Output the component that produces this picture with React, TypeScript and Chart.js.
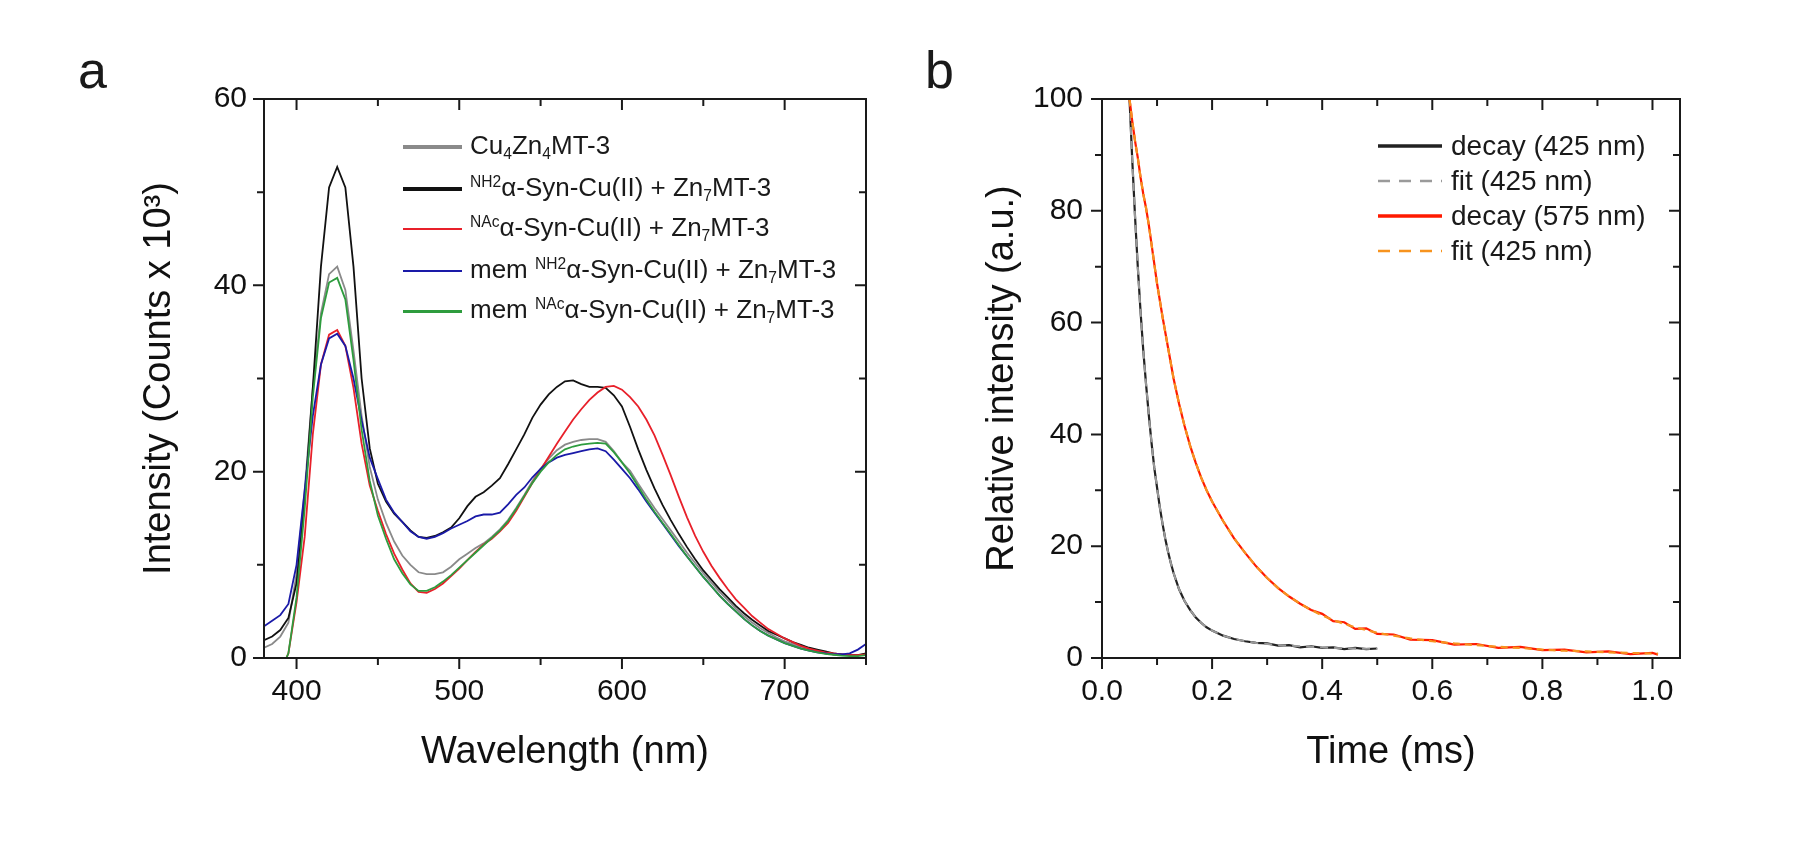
import React, { useEffect, useRef } from "react";
import { Chart, registerables } from "chart.js";
Chart.register(...registerables);

const FONT = "'Liberation Sans', Arial, Helvetica, sans-serif";

// ---------- Panel a: emission spectra ----------
const wavelength = [
  380, 385, 390, 395, 400, 405, 410, 415, 420, 425, 430, 435, 440, 445, 450,
  455, 460, 465, 470, 475, 480, 485, 490, 495, 500, 505, 510, 515, 520, 525,
  530, 535, 540, 545, 550, 555, 560, 565, 570, 575, 580, 585, 590, 595, 600,
  605, 610, 615, 620, 625, 630, 635, 640, 645, 650, 655, 660, 665, 670, 675,
  680, 685, 690, 695, 700, 705, 710, 715, 720, 725, 730, 735, 740, 745, 750,
];
const cu4zn4MT3 = [
  1.1, 1.5, 2.3, 3.8, 9,
  18, 29, 37, 41.2, 42, 39.5, 33, 26, 20.5, 17,
  14.5, 12.5, 11, 10, 9.2, 9, 9, 9.2, 9.8, 10.6,
  11.2, 11.8, 12.3, 13, 13.8, 14.8, 16.1, 17.5, 19, 20.3,
  21.4, 22.3, 22.9, 23.2, 23.4, 23.5, 23.5, 23.2, 22.2, 21,
  20.1, 18.7, 17.4, 16.1, 14.9, 13.7, 12.5, 11.3, 10.2, 9.1,
  8.1, 7.1, 6.2, 5.3, 4.5, 3.8, 3.2, 2.7, 2.2, 1.8,
  1.5, 1.2, 0.9, 0.7, 0.5, 0.4, 0.3, 0.3, 0.3, 0.4,
];
const nh2SynZn7MT3 = [
  1.9, 2.3, 3.0, 4.3, 8,
  17, 29, 42, 50.5, 52.7, 50.5, 42, 30, 22.5, 18.7,
  16.8, 15.5, 14.6, 13.7, 13.0, 12.9, 13.1, 13.5, 14.0, 15.0,
  16.3, 17.3, 17.8, 18.5, 19.3, 20.8, 22.4, 24.0, 25.8, 27.2,
  28.3, 29.1, 29.7, 29.8, 29.4, 29.1, 29.1, 29.0, 28.2, 27.0,
  24.8, 22.4, 20.2, 18.2, 16.4, 14.8, 13.3, 11.9, 10.6, 9.4,
  8.4, 7.4, 6.5, 5.6, 4.8, 4.1, 3.5, 2.9, 2.5, 2.1,
  1.7, 1.4, 1.1, 0.9, 0.7, 0.5, 0.4, 0.3, 0.3, 0.5,
];
const nacSynZn7MT3 = [
  -3, -2.5, -1.5, 0.5, 6,
  13, 24, 31.5, 34.7, 35.2, 33.5, 29, 23, 18.5, 15.8,
  13.3, 11.2, 9.5, 8.0, 7.1, 7.0, 7.4, 8.0, 8.8, 9.6,
  10.5, 11.4, 12.2, 12.8, 13.6, 14.5, 15.8, 17.3, 18.8, 20.2,
  21.6, 23.0, 24.3, 25.6, 26.7, 27.7, 28.5, 29.1, 29.2, 28.8,
  28.0, 27.0, 25.6, 23.9, 21.8, 19.6, 17.3, 15.1, 13.1, 11.4,
  9.9, 8.6, 7.4, 6.3, 5.4, 4.5, 3.8, 3.1, 2.6, 2.1,
  1.7, 1.3, 1.0, 0.8, 0.6, 0.5, 0.4, 0.3, 0.3, 0.4,
];
const memNh2SynZn7MT3 = [
  3.4, 4.0, 4.6, 5.8, 10,
  18, 26, 31.5, 34.3, 34.8, 33.5, 30, 25.5, 21.5, 19.2,
  17, 15.6, 14.6, 13.6, 13, 12.8, 13, 13.4, 13.9, 14.3,
  14.7, 15.2, 15.4, 15.4, 15.6, 16.5, 17.5, 18.3, 19.4, 20.3,
  21.0, 21.5, 21.8, 22.0, 22.2, 22.4, 22.5, 22.2, 21.3, 20.3,
  19.3, 18.1, 16.8, 15.6, 14.4, 13.2, 12.0, 10.9, 9.8, 8.7,
  7.7, 6.7, 5.8, 5.0, 4.2, 3.5, 2.9, 2.4, 2.0, 1.6,
  1.3, 1.0, 0.8, 0.6, 0.5, 0.4, 0.4, 0.5, 0.9, 1.5,
];
const memNacSynZn7MT3 = [
  -3, -2.5, -1.5, 0.5, 6.5,
  16, 28, 36.5, 40.3, 40.8, 38.5, 32, 24.5, 19, 15.3,
  12.8, 10.6, 9.1, 7.9, 7.2, 7.2, 7.6, 8.2, 8.9, 9.7,
  10.5, 11.3, 12.1, 12.9, 13.7, 14.7, 16.0, 17.4, 18.8, 20.0,
  21.0, 21.8, 22.4, 22.7, 22.9, 23.0, 23.1, 23.0, 22.1, 21.0,
  19.8, 18.4, 17.0, 15.7, 14.5, 13.3, 12.1, 10.9, 9.8, 8.7,
  7.7, 6.7, 5.8, 5.0, 4.2, 3.5, 2.9, 2.4, 2.0, 1.6,
  1.3, 1.0, 0.8, 0.6, 0.45, 0.35, 0.25, 0.2, 0.2, 0.3,
];
const wavelengthTickLabels = [400, 500, 600, 700];
const intensityTickLabels = [0, 20, 40, 60];

// ---------- Panel b: decays ----------
const time425 = [
  0.05, 0.055, 0.06, 0.065, 0.07, 0.075, 0.08, 0.085, 0.09, 0.095, 0.1, 0.105,
  0.11, 0.115, 0.12, 0.125, 0.13, 0.14, 0.15, 0.16, 0.17, 0.18, 0.19, 0.2,
  0.22, 0.24, 0.26, 0.28, 0.3, 0.32, 0.34, 0.36, 0.38, 0.4, 0.42, 0.44, 0.46,
  0.48, 0.5,
];
const decay425 = [
  100, 89, 79, 70, 62, 55, 49, 43.5, 38.5, 34, 30.5, 27,
  24, 21.3, 19, 17, 15.2, 12.3, 10.2, 8.6, 7.3, 6.3, 5.5, 4.9,
  4.0, 3.4, 3.0, 2.7, 2.6, 2.2, 2.3, 1.9, 2.1, 1.8, 1.9, 1.6, 1.8,
  1.6, 1.7,
];
const fit425 = [
  100, 89, 79, 70, 62, 55, 49, 43.5, 38.5, 34, 30.5, 27,
  24, 21.3, 19, 17, 15.2, 12.3, 10.2, 8.6, 7.3, 6.3, 5.5, 4.9,
  4.0, 3.4, 3.0, 2.7, 2.5, 2.3, 2.2, 2.1, 2.0, 1.9, 1.8, 1.75, 1.7,
  1.65, 1.6,
];
const time575 = [
  0.05, 0.055, 0.06, 0.065, 0.07, 0.075, 0.08, 0.085, 0.09, 0.095, 0.1,
  0.11, 0.12, 0.13, 0.14, 0.15, 0.16, 0.17, 0.18, 0.19, 0.2, 0.22, 0.24,
  0.26, 0.28, 0.3, 0.32, 0.34, 0.36, 0.38, 0.4, 0.42, 0.44, 0.46, 0.48, 0.5,
  0.53, 0.56, 0.6, 0.64, 0.68, 0.72, 0.76, 0.8, 0.84, 0.88, 0.92, 0.96, 1.0,
  1.01,
];
const decay575 = [
  100, 96, 92.5, 89.5, 86, 83, 80.5, 77.5, 74, 70.5, 67,
  61, 55.5, 50, 45.5, 41.5, 38, 35, 32.3, 30, 28, 24.5, 21.4,
  18.8, 16.4, 14.3, 12.5, 11, 9.7, 8.6, 7.9, 6.6, 6.4, 5.2, 5.3, 4.3,
  4.2, 3.3, 3.2, 2.4, 2.5, 1.8, 2.0, 1.4, 1.5, 1.0, 1.2, 0.7, 0.9,
  0.6,
];
const fit575 = [
  100, 96, 92.5, 89.5, 86, 83, 80.5, 77.5, 74, 70.5, 67,
  61, 55.5, 50, 45.5, 41.5, 38, 35, 32.3, 30, 28, 24.5, 21.4,
  18.8, 16.4, 14.3, 12.5, 11, 9.7, 8.6, 7.6, 6.8, 6.1, 5.5, 5.0, 4.5,
  4.0, 3.5, 3.0, 2.6, 2.3, 2.0, 1.8, 1.5, 1.3, 1.2, 1.0, 0.9, 0.8,
  0.8,
];
const timeTickLabels = [0, 0.2, 0.4, 0.6, 0.8, 1.0];
const relIntensityTickLabels = [0, 20, 40, 60, 80, 100];

const pts = (xs: number[], ys: number[]) => xs.map((x, i) => ({ x, y: ys[i] }));
const has = (list: number[], v: number) => list.some((t) => Math.abs(t - v) < 1e-6);

function framePlugin(majorX: number[], majorY: number[]) {
  return {
    id: "frameTicks",
    afterDatasetsDraw(chart: any) {
      const { ctx, chartArea } = chart;
      const { left, top, right, bottom } = chartArea;
      const xs = chart.scales.x;
      const ys = chart.scales.y;
      ctx.save();
      ctx.strokeStyle = "#1a1a1a";
      ctx.lineWidth = 2;
      ctx.beginPath();
      for (const t of xs.ticks) {
        const p = xs.getPixelForValue(t.value);
        const len = has(majorX, t.value) ? 11 : 7;
        ctx.moveTo(p, bottom);
        ctx.lineTo(p, bottom + len);
        ctx.moveTo(p, top);
        ctx.lineTo(p, top + len);
      }
      for (const t of ys.ticks) {
        const p = ys.getPixelForValue(t.value);
        const len = has(majorY, t.value) ? 11 : 7;
        ctx.moveTo(left, p);
        ctx.lineTo(left - len, p);
        ctx.moveTo(right, p);
        ctx.lineTo(right - len, p);
      }
      ctx.stroke();
      ctx.strokeRect(left, top, right - left, bottom - top);
      ctx.restore();
    },
  };
}

const tickFont = { size: 30, family: FONT };
const titleFont = { size: 38, family: FONT };

function scaleX(min: number, max: number, step: number, labels: number[], title: string, fmt: (v: number) => string) {
  return {
    type: "linear",
    min,
    max,
    grid: { display: false, drawTicks: false },
    border: { display: false },
    ticks: {
      stepSize: step,
      includeBounds: false,
      autoSkip: false,
      maxRotation: 0,
      padding: 16,
      font: tickFont,
      color: "#111",
      callback: (v: number) => (has(labels, v) ? fmt(v) : ""),
    },
    title: { display: true, text: title, font: titleFont, color: "#111", padding: 0 },
    afterFit: (s: any) => {
      s.height = 117;
    },
  };
}

function scaleY(max: number, step: number, labels: number[], title: string, width: number, pad: number) {
  return {
    type: "linear",
    min: 0,
    max,
    grid: { display: false, drawTicks: false },
    border: { display: false },
    ticks: {
      stepSize: step,
      autoSkip: false,
      padding: pad,
      font: tickFont,
      color: "#111",
      callback: (v: number) => (has(labels, v) ? String(Math.round(v)) : ""),
    },
    title: { display: true, text: title, font: titleFont, color: "#111", padding: 0 },
    afterFit: (s: any) => {
      s.width = width;
    },
  };
}

// order: lower value is drawn later (on top)
const line = (label: string, data: any[], color: string, width: number, order: number, dash: number[] = []) => ({
  label,
  data,
  order,
  borderColor: color,
  backgroundColor: color,
  borderWidth: width,
  borderDash: dash,
  pointRadius: 0,
  fill: false,
  tension: 0,
  clip: 0,
});

const Sup = ({ children }: any) => (
  <span style={{ fontSize: "0.6em", position: "relative", top: "-0.6em" }}>{children}</span>
);
const Sub = ({ children }: any) => (
  <span style={{ fontSize: "0.6em", position: "relative", top: "0.35em" }}>{children}</span>
);

const legendA = [
  { color: "#8a8a8a", w: 4, text: <>Cu<Sub>4</Sub>Zn<Sub>4</Sub>MT-3</> },
  { color: "#111111", w: 4, text: <><Sup>NH2</Sup>α-Syn-Cu(II) + Zn<Sub>7</Sub>MT-3</> },
  { color: "#e8202a", w: 2, text: <><Sup>NAc</Sup>α-Syn-Cu(II) + Zn<Sub>7</Sub>MT-3</> },
  { color: "#1a1aa8", w: 2.5, text: <>mem <Sup>NH2</Sup>α-Syn-Cu(II) + Zn<Sub>7</Sub>MT-3</> },
  { color: "#2e9c3e", w: 3, text: <>mem <Sup>NAc</Sup>α-Syn-Cu(II) + Zn<Sub>7</Sub>MT-3</> },
];
const legendARows = [147, 189, 229, 271, 311];

const legendB = [
  { color: "#222222", w: 3.5, dash: "", text: "decay (425 nm)" },
  { color: "#9a9a9a", w: 2.5, dash: "12 9", text: "fit (425 nm)" },
  { color: "#ff1a00", w: 3.5, dash: "", text: "decay (575 nm)" },
  { color: "#f7931e", w: 2.5, dash: "12 9", text: "fit (425 nm)" },
];
const legendBRows = [146, 181, 216, 251];

export default function App() {
  const refA = useRef<HTMLCanvasElement>(null);
  const refB = useRef<HTMLCanvasElement>(null);

  useEffect(() => {
    Chart.defaults.font.family = FONT;
    Chart.defaults.color = "#111";
    const common = {
      responsive: false,
      maintainAspectRatio: false,
      animation: false,
      events: [],
      plugins: { legend: { display: false }, tooltip: { enabled: false } },
      elements: { point: { radius: 0 } },
    };
    const chartA = new Chart(refA.current as HTMLCanvasElement, {
      type: "line",
      data: {
        datasets: [
          line("Cu4Zn4MT-3", pts(wavelength, cu4zn4MT3), "#8a8a8a", 1.8, 4),
          line("NH2 α-Syn-Cu(II) + Zn7MT-3", pts(wavelength, nh2SynZn7MT3), "#111111", 1.8, 3),
          line("NAc α-Syn-Cu(II) + Zn7MT-3", pts(wavelength, nacSynZn7MT3), "#e8202a", 1.8, 2),
          line("mem NH2 α-Syn-Cu(II) + Zn7MT-3", pts(wavelength, memNh2SynZn7MT3), "#1a1aa8", 1.8, 1),
          line("mem NAc α-Syn-Cu(II) + Zn7MT-3", pts(wavelength, memNacSynZn7MT3), "#2e9c3e", 1.8, 0),
        ],
      },
      options: {
        ...common,
        layout: { padding: { left: 137, top: 99, right: 34, bottom: 88 } },
        scales: {
          x: scaleX(380, 750, 50, wavelengthTickLabels, "Wavelength (nm)", (v) => String(Math.round(v))),
          y: scaleY(60, 10, intensityTickLabels, "Intensity (Counts x 10³)", 127, 17),
        },
      } as any,
      plugins: [framePlugin(wavelengthTickLabels, intensityTickLabels)],
    } as any);

    const chartB = new Chart(refB.current as HTMLCanvasElement, {
      type: "line",
      data: {
        datasets: [
          line("decay (425 nm)", pts(time425, decay425), "#222222", 2.2, 3),
          line("fit (425 nm)", pts(time425, fit425), "#9a9a9a", 2, 2, [8, 6]),
          line("decay (575 nm)", pts(time575, decay575), "#ff1a00", 2.2, 1),
          line("fit (575 nm)", pts(time575, fit575), "#f7931e", 2.2, 0, [7, 5]),
        ],
      },
      options: {
        ...common,
        layout: { padding: { left: 80, top: 99, right: 120, bottom: 88 } },
        scales: {
          x: scaleX(0, 1.05, 0.1, timeTickLabels, "Time (ms)", (v) => v.toFixed(1)),
          y: scaleY(100, 10, relIntensityTickLabels, "Relative intensity (a.u.)", 122, 19),
        },
      } as any,
      plugins: [framePlugin(timeTickLabels, relIntensityTickLabels)],
    } as any);

    return () => {
      chartA.destroy();
      chartB.destroy();
    };
  }, []);

  return (
    <div
      style={{
        position: "fixed",
        left: 0,
        top: 0,
        width: 1800,
        height: 863,
        background: "#fff",
        overflow: "hidden",
        fontFamily: FONT,
        color: "#1a1a1a",
      }}
    >
      <canvas ref={refA} width={900} height={863} style={{ position: "absolute", left: 0, top: 0, width: 900, height: 863 }} />
      <canvas ref={refB} width={900} height={863} style={{ position: "absolute", left: 900, top: 0, width: 900, height: 863 }} />

      <div style={{ position: "absolute", left: 78, top: 44, fontSize: 52, lineHeight: "52px" }}>a</div>
      <div style={{ position: "absolute", left: 925, top: 44, fontSize: 52, lineHeight: "52px" }}>b</div>

      {legendA.map((r, i) => (
        <div
          key={i}
          style={{
            position: "absolute",
            left: 403,
            top: legendARows[i] - 17,
            height: 34,
            display: "flex",
            alignItems: "center",
            whiteSpace: "nowrap",
            fontSize: 26,
          }}
        >
          <span style={{ display: "inline-block", width: 59, height: r.w, background: r.color }} />
          <span style={{ marginLeft: 8, lineHeight: "34px" }}>{r.text}</span>
        </div>
      ))}

      {legendB.map((r, i) => (
        <div
          key={i}
          style={{
            position: "absolute",
            left: 1378,
            top: legendBRows[i] - 17,
            height: 34,
            display: "flex",
            alignItems: "center",
            whiteSpace: "nowrap",
            fontSize: 28,
          }}
        >
          <svg width={64} height={8} style={{ display: "block" }}>
            <line x1={0} y1={4} x2={64} y2={4} stroke={r.color} strokeWidth={r.w} strokeDasharray={r.dash || undefined} />
          </svg>
          <span style={{ marginLeft: 9, lineHeight: "34px" }}>{r.text}</span>
        </div>
      ))}
    </div>
  );
}
